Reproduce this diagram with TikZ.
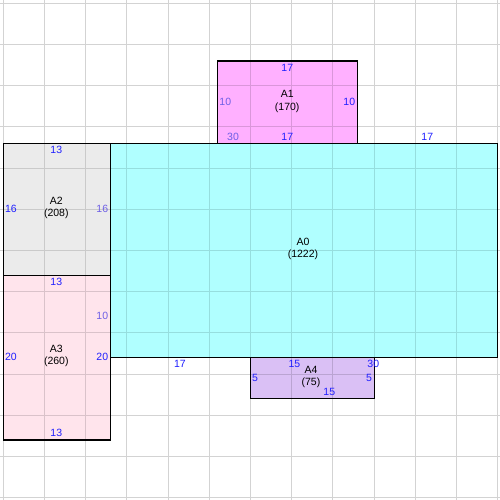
\documentclass[tikz,border=0pt]{standalone}
\usepackage{fontspec}
\setmainfont{Liberation Sans}
\definecolor{cA0}{RGB}{176,255,255}
\definecolor{cA1}{RGB}{255,176,255}
\definecolor{cA2}{RGB}{235,235,235}
\definecolor{cA3}{RGB}{255,228,236}
\definecolor{cA4}{RGB}{218,192,245}
\definecolor{gW}{RGB}{211,211,211}
\definecolor{gA0}{RGB}{150,222,222}
\definecolor{gA1}{RGB}{218,150,218}
\definecolor{gA2}{RGB}{202,202,202}
\definecolor{gA3}{RGB}{218,194,202}
\definecolor{gA4}{RGB}{186,164,210}
\definecolor{lblue}{RGB}{32,32,255}
\definecolor{lfade}{RGB}{110,95,230}
\tikzset{
  areabox/.style={draw=black, line width=1.2pt, inner sep=0pt, outer sep=0pt},
  areaborder/.style={draw=black, line width=1.2pt},
  dimlbl/.style={text=lblue, inner sep=0pt, font=\fontsize{10.5}{12}\selectfont},
  dimfade/.style={dimlbl, text=lfade},
  arealbl/.style={text=black, inner sep=0pt, align=center, font=\fontsize{10.5}{12.3}\selectfont},
  gridline/.style={line width=1pt}
}
\newcommand{\mygrid}[1]{%
  \foreach \k in {0,5,...,60} {
    \draw[gridline, draw=#1] (\k,-0.6) -- (\k,60.3);
    \draw[gridline, draw=#1] (-0.6,\k) -- (60.3,\k);
  }}
\begin{document}
\begin{tikzpicture}[x=1pt,y=-1pt]
\useasboundingbox (0,0) rectangle (500,500);
\fill[white] (0,0) rectangle (500,500);
\begin{scope}[shift={(3.3,3.3)}, x=8.24pt, y=-8.24pt]
  % areas
  \node[areabox, fill=cA0, minimum width=387.28pt, minimum height=214.24pt] (a0) at (36.5,30) {};
  \node[areabox, fill=cA1, minimum width=140.08pt, minimum height=82.4pt] (a1) at (34.5,12) {};
  \node[areabox, fill=cA2, minimum width=107.12pt, minimum height=131.84pt] (a2) at (6.5,25) {};
  \node[areabox, fill=cA3, minimum width=107.12pt, minimum height=164.8pt] (a3) at (6.5,43) {};
  \node[areabox, fill=cA4, minimum width=123.6pt, minimum height=41.2pt] (a4) at (37.5,45.5) {};
  % grid
  \mygrid{gW}
  \foreach \r/\c in {a0/gA0, a1/gA1, a2/gA2, a3/gA3, a4/gA4} {
    \begin{scope}
      \clip (\r.north west) rectangle (\r.south east);
      \mygrid{\c}
    \end{scope}
    \draw[areaborder] (\r.north west) rectangle (\r.south east);
  }
  % names
  \node[arealbl] (n1) at (34.45,11.9) {A1\\(170)};
  \node[arealbl] (n2) at (6.43,24.83) {A2\\(208)};
  \node[arealbl] (n0) at (36.37,29.84) {A0\\(1222)};
  \node[arealbl] (n3) at (6.43,42.83) {A3\\(260)};
  \node[arealbl] (n4) at (37.34,45.32) {A4\\(75)};
  % A1 dims
  \node[dimlbl]  (d1t) at (34.47,7.85) {17};
  \node[dimfade] (d1l) at (26.94,11.94) {10};
  \node[dimlbl]  (d1r) at (41.99,11.94) {10};
  \node[dimfade] (d1c) at (27.88,16.19) {30};
  \node[dimlbl]  (d1b) at (34.47,16.19) {17};
  \node[dimlbl]  (d0t) at (51.46,16.19) {17};
  % A2 dims
  \node[dimlbl]  (d2t) at (6.43,17.84) {13};
  \node[dimlbl]  (d2l) at (0.93,25.0) {16};
  \node[dimfade] (d2r) at (12.01,25.0) {16};
  % A3 dims
  \node[dimlbl]  (d3t) at (6.43,33.86) {13};
  \node[dimfade] (d3m) at (12.01,37.95) {10};
  \node[dimlbl]  (d3l) at (0.93,42.92) {20};
  \node[dimlbl]  (d3r) at (12.01,42.92) {20};
  \node[dimlbl]  (d3b) at (6.43,52.11) {13};
  \node[dimlbl]  (d0b) at (21.44,43.77) {17};
  % A4 dims
  \node[dimlbl]  (d4t) at (35.32,43.77) {15};
  \node[dimlbl]  (d4c) at (44.90,43.77) {30};
  \node[dimlbl]  (d4l) at (30.55,45.47) {5};
  \node[dimlbl]  (d4r) at (44.38,45.47) {5};
  \node[dimlbl]  (d4b) at (39.56,47.21) {15};
\end{scope}
\end{tikzpicture}
\end{document}
